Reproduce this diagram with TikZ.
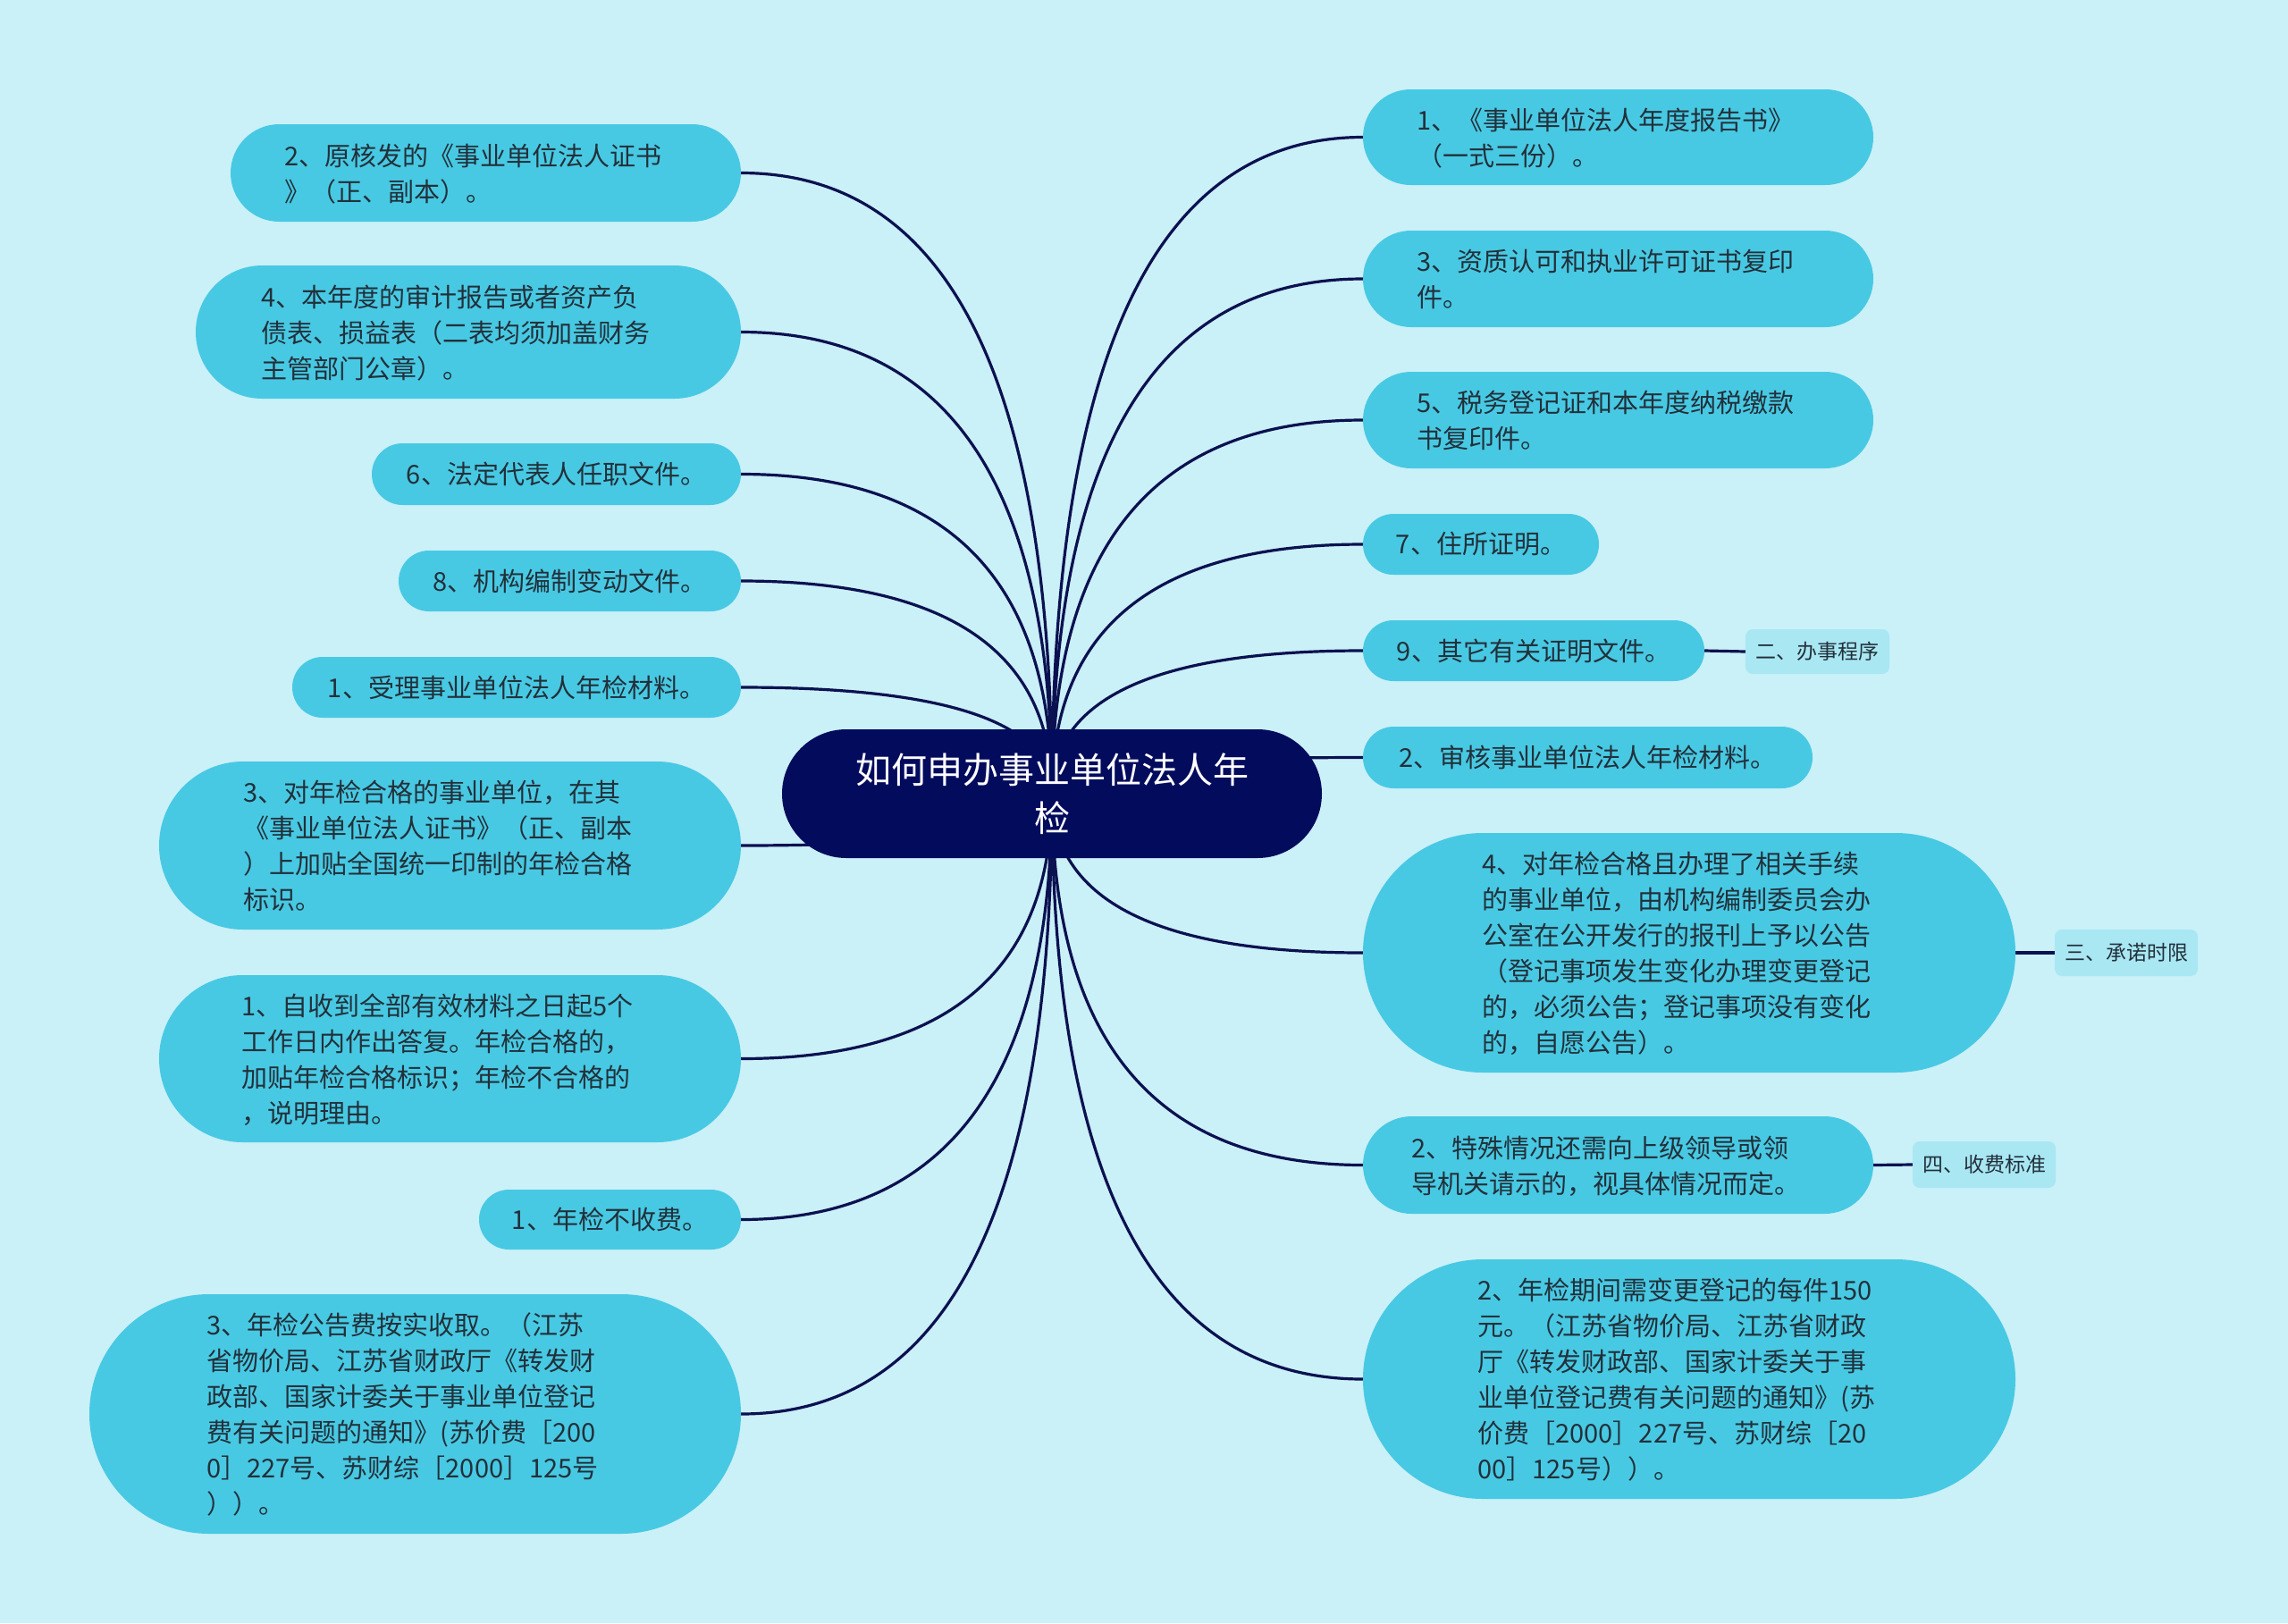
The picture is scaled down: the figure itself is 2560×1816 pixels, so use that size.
\documentclass[tikz,border=0pt]{standalone}
\usepackage{fontspec}
\setmainfont{Noto Sans CJK SC}
\usetikzlibrary{shapes.misc,calc}
\definecolor{bgc}{HTML}{CAF0F8}
\definecolor{leafc}{HTML}{48C9E3}
\definecolor{labc}{HTML}{A9E7F3}
\definecolor{rootc}{HTML}{020B5C}
\definecolor{linec}{HTML}{0B1150}
\definecolor{txtc}{HTML}{22303A}
\pgfdeclarelayer{bglayer}
\pgfsetlayers{bglayer,main}
\tikzset{
  leafnode/.style={rounded rectangle, fill=leafc, text=txtc, align=left,
    font=\fontsize{29}{40}\selectfont, inner sep=0pt},
  rootnode/.style={rounded rectangle, fill=rootc, text=white, align=center,
    font=\fontsize{40}{54}\selectfont, inner sep=0pt},
  labnode/.style={rectangle, rounded corners=8pt, fill=labc, text=txtc,
    font=\fontsize{23}{30}\selectfont, inner sep=0pt},
  conn/.style={draw=linec, line width=3.2pt},
}
\newcommand\mtx[1]{\begin{tabular}{@{}l@{\hspace{28pt}}}\rule{0pt}{35pt}#1\end{tabular}}
\newcommand\mmconn[1]{%
  \draw[conn] (root.center) .. controls ($(root.center)!0.6667!(root.center |- #1)$)
    and ($(#1)!0.6667!(root.center |- #1)$) .. (#1);}
\begin{document}
\begin{tikzpicture}[x=1pt,y=-1pt]
\useasboundingbox (0,0) rectangle (2560,1816);
% root
\node[rootnode, minimum width=604, minimum height=144] (root) at (1177,888) {如何申办事业单位法人年\\检};
% left nodes
\node[leafnode, minimum width=571, minimum height=109] (L1) at (543.5,193.5) {\mtx{2、原核发的《事业单位法人证书\\》（正、副本）。}};
\node[leafnode, minimum width=610, minimum height=149] (L2) at (524,371.5) {\mtx{4、本年度的审计报告或者资产负\\债表、损益表（二表均须加盖财务\\主管部门公章）。}};
\node[leafnode, minimum width=413, minimum height=69] (L3) at (622.5,530.5) {6、法定代表人任职文件。};
\node[leafnode, minimum width=383, minimum height=68] (L4) at (637.5,650) {8、机构编制变动文件。};
\node[leafnode, minimum width=502, minimum height=68] (L5) at (578,769) {1、受理事业单位法人年检材料。};
\node[leafnode, minimum width=651, minimum height=188] (L6) at (503.5,946) {\mtx{3、对年检合格的事业单位，在其\\《事业单位法人证书》（正、副本\\）上加贴全国统一印制的年检合格\\标识。}};
\node[leafnode, minimum width=651, minimum height=187] (L7) at (503.5,1184.5) {\mtx{1、自收到全部有效材料之日起5个\\工作日内作出答复。年检合格的，\\加贴年检合格标识；年检不合格的\\，说明理由。}};
\node[leafnode, minimum width=293, minimum height=67] (L8) at (682.5,1364.5) {1、年检不收费。};
\node[leafnode, minimum width=729, minimum height=268] (L9) at (464.5,1582) {\mtx{3、年检公告费按实收取。（江苏\\省物价局、江苏省财政厅《转发财\\政部、国家计委关于事业单位登记\\费有关问题的通知》(苏价费［200\\0］227号、苏财综［2000］125号\\））。}};
% right nodes
\node[leafnode, minimum width=571, minimum height=107] (R1) at (1810.5,153.5) {\mtx{1、《事业单位法人年度报告书》\\（一式三份）。}};
\node[leafnode, minimum width=571, minimum height=108] (R2) at (1810.5,312) {\mtx{3、资质认可和执业许可证书复印\\件。}};
\node[leafnode, minimum width=571, minimum height=108] (R3) at (1810.5,470) {\mtx{5、税务登记证和本年度纳税缴款\\书复印件。}};
\node[leafnode, minimum width=264, minimum height=68] (R4) at (1657,609) {7、住所证明。};
\node[leafnode, minimum width=382, minimum height=68] (R5) at (1716,728) {9、其它有关证明文件。};
\node[leafnode, minimum width=503, minimum height=69] (R6) at (1776.5,847.5) {2、审核事业单位法人年检材料。};
\node[leafnode, minimum width=730, minimum height=268] (R7) at (1890,1066) {\mtx{4、对年检合格且办理了相关手续\\的事业单位，由机构编制委员会办\\公室在公开发行的报刊上予以公告\\（登记事项发生变化办理变更登记\\的，必须公告；登记事项没有变化\\的，自愿公告）。}};
\node[leafnode, minimum width=571, minimum height=109] (R8) at (1810.5,1303.5) {\mtx{2、特殊情况还需向上级领导或领\\导机关请示的，视具体情况而定。}};
\node[leafnode, minimum width=730, minimum height=268] (R9) at (1890,1543) {\mtx{2、年检期间需变更登记的每件150\\元。（江苏省物价局、江苏省财政\\厅《转发财政部、国家计委关于事\\业单位登记费有关问题的通知》(苏\\价费［2000］227号、苏财综［20\\00］125号））。}};
% labels
\node[labnode, minimum width=161, minimum height=50] (lab2) at (2033.5,729) {二、办事程序};
\node[labnode, minimum width=160, minimum height=52] (lab3) at (2379,1066) {三、承诺时限};
\node[labnode, minimum width=160, minimum height=52] (lab4) at (2220,1303) {四、收费标准};
\begin{pgfonlayer}{bglayer}
\fill[bgc] (0,0) rectangle (2560,1816);
\mmconn{L1.east}\mmconn{L2.east}\mmconn{L3.east}\mmconn{L4.east}\mmconn{L5.east}
\mmconn{L6.east}\mmconn{L7.east}\mmconn{L8.east}\mmconn{L9.east}
\mmconn{R1.west}\mmconn{R2.west}\mmconn{R3.west}\mmconn{R4.west}\mmconn{R5.west}
\mmconn{R6.west}\mmconn{R7.west}\mmconn{R8.west}\mmconn{R9.west}
\draw[conn] (R5.east) -- (lab2.west);
\draw[conn] (R7.east) -- (lab3.west);
\draw[conn] (R8.east) -- (lab4.west);
\end{pgfonlayer}
\end{tikzpicture}
\end{document}
